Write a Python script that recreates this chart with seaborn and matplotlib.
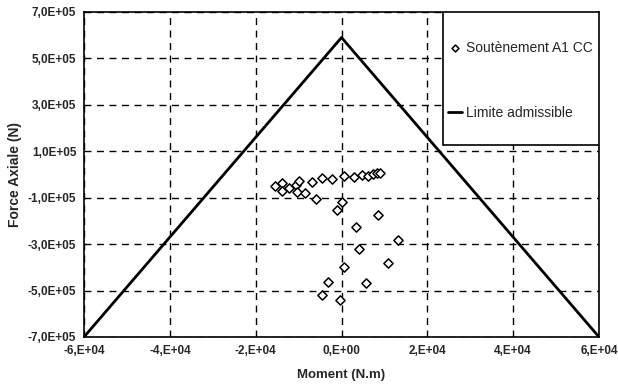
import pandas as pd
import matplotlib.pyplot as plt
import seaborn as sns
from matplotlib.patches import Rectangle


OUTPUT_PATH = "out.png"

# Measured points (moment N.m, axial force N)
moment = [
    -15500, -13900, -13900, -12200, -10600, -9800, -10300, -8600,
    -6900, -4600, -5900, -2100, 600, 2800, 4700, 6200, 7400, 8200,
    9000, 0, -1000, 8600, 3300, 13100, 4100, 10900, 500, -3100,
    5800, -4500, -300,
]
force = [
    -50000, -36000, -70000, -60000, -46000, -29000, -76000, -81000,
    -34000, -16000, -106000, -21000, -8000, -12000, -1000, -7000,
    3000, 5000, 6000, -118000, -153000, -176000, -225000, -284000,
    -320000, -381000, -398000, -464000, -469000, -517000, -540000,
]

# Admissible limit (triangle)
limit_moment = [-60000, 0, 60000]
limit_force = [-700000, 590000, -700000]

x_ticks = [-60000, -40000, -20000, 0, 20000, 40000, 60000]
x_tick_labels = ["-6,E+04", "-4,E+04", "-2,E+04", "0,E+00",
                 "2,E+04", "4,E+04", "6,E+04"]
y_ticks = [-700000, -500000, -300000, -100000, 100000, 300000, 500000, 700000]
y_tick_labels = ["-7,0E+05", "-5,0E+05", "-3,0E+05", "-1,0E+05",
                 "1,0E+05", "3,0E+05", "5,0E+05", "7,0E+05"]


def plot_chart():

    sns.set_style("white")
    plt.rcParams["font.family"] = ["Liberation Sans", "DejaVu Sans"]

    fig = plt.figure(figsize=(6.18, 3.89), dpi=100)
    ax = fig.add_axes([0.1359, 0.1337, 0.8334, 0.8355])

    points = pd.DataFrame({"moment": moment, "force": force})
    limit = pd.DataFrame({"moment": limit_moment, "force": limit_force})

    sns.lineplot(
        data=limit, x="moment", y="force", sort=False,
        color="black", linewidth=2, ax=ax, zorder=3,
        label="Limite admissible", legend=False,
    )

    sns.scatterplot(
        data=points, x="moment", y="force", marker="D", s=22,
        facecolor="white", edgecolor="black", linewidth=1.1,
        ax=ax, zorder=4, label="Soutènement A1 CC", legend=False,
    )

    ax.set_xlim(-60000, 60000)
    ax.set_ylim(-700000, 700000)
    ax.set_xticks(x_ticks)
    ax.set_xticklabels(x_tick_labels, fontsize=8.5, fontweight="bold")
    ax.set_yticks(y_ticks)
    ax.set_yticklabels(y_tick_labels, fontsize=8.5, fontweight="bold")
    ax.tick_params(direction="inout", length=5, width=1, color="black",
                   pad=3)

    ax.grid(True, color="black", linestyle=(0, (5, 4)), linewidth=1)
    ax.set_axisbelow(True)
    for spine in ax.spines.values():
        spine.set_color("black")
        spine.set_linewidth(1.2)

    ax.set_xlabel("Moment (N.m)", fontsize=9.5, fontweight="bold",
                  labelpad=9)
    ax.set_ylabel("Force Axiale (N)", fontsize=10, fontweight="bold",
                  labelpad=4)

    # Legend box
    ax.add_patch(Rectangle(
        (0.697, 0.591), 0.303, 0.409, transform=ax.transAxes,
        facecolor="white", edgecolor="black", linewidth=1.2, zorder=5,
    ))
    handles, labels = ax.get_legend_handles_labels()
    order = [1, 0]
    leg = ax.legend(
        [handles[i] for i in order], [labels[i] for i in order],
        loc="upper left", bbox_to_anchor=(0.707, 0.911),
        frameon=False, fontsize=10, borderpad=0, borderaxespad=0,
        handlelength=1.0, handletextpad=0.3, labelspacing=3.7,
        markerscale=0.75,
    )
    leg.set_zorder(6)

    plt.savefig(OUTPUT_PATH, dpi=100)


if __name__ == "__main__":

    plot_chart()
